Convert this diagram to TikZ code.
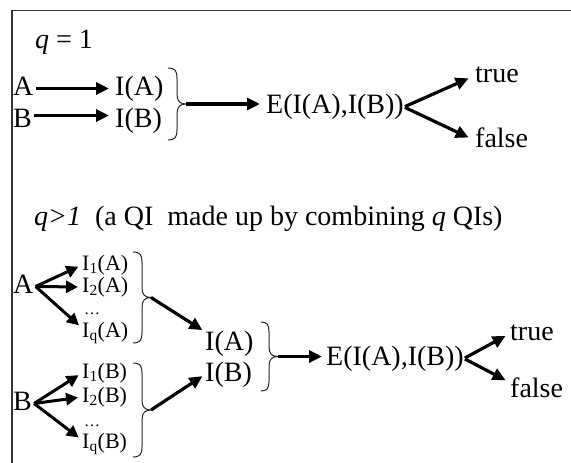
\documentclass[tikz,border=0pt]{standalone}
\usepackage{fontspec}
\setmainfont{Liberation Serif}
\usetikzlibrary{arrows.meta}

% right-facing curly brace: x of hooks, y top, y bottom, hook width, tip width, curl size
\newcommand{\curlybrace}[6]{%
  \draw[brc] (#1,#2) .. controls (#1+0.8*#4,#2) and (#1+#4,#2+0.3*#6) .. (#1+#4,#2+#6)
    -- (#1+#4,{(#2+#3)/2-#6})
    .. controls (#1+#4,{(#2+#3)/2-0.3*#6}) and (#1+#4+0.3*#5,{(#2+#3)/2}) .. (#1+#4+#5,{(#2+#3)/2})
    .. controls (#1+#4+0.3*#5,{(#2+#3)/2}) and (#1+#4,{(#2+#3)/2+0.3*#6}) .. (#1+#4,{(#2+#3)/2+#6})
    -- (#1+#4,#3-#6) .. controls (#1+#4,#3-0.3*#6) and (#1+0.8*#4,#3) .. (#1,#3);}

\begin{document}
\begin{tikzpicture}[x=1pt,y=-1pt,
  big/.style={inner sep=0pt, anchor=base west, text height=18pt, text depth=5pt,
              font=\fontsize{28}{31}\selectfont},
  letter/.style={big, inner xsep=2pt},
  small/.style={inner sep=0pt, anchor=base west, text height=14pt, text depth=4pt,
              font=\fontsize{22}{24}\selectfont},
  dotsnode/.style={inner sep=0pt, anchor=base west, font=\fontsize{16}{17}\selectfont},
  arr/.style={line width=3.2pt, -{Triangle[length=13pt,width=12pt]}},
  sarr/.style={line width=3pt, -{Triangle[length=12pt,width=12pt]}},
  brc/.style={line width=1pt, black!85},
  frame/.style={line width=1.4pt, black!80},
]
\useasboundingbox (0,0) rectangle (571,463);

% open frame: top edge and left edge
\draw[frame] (571,10.5) -- (12,10.5) -- (12,463);

% ---------- q = 1 ----------
\node[big] (q1) at (35,48) {\textit{q} = 1};
\node[letter] (A1) at (11,95) {A};
\node[letter] (B1) at (11,127) {B};
\node[big] (IA1) at (115,95) {I(A)};
\node[big] (IB1) at (115,127) {I(B)};
\node[big] (E1) at (266,113.5) {E(I(A),I(B))};
\node[big] (T1) at (475,82) {true};
\node[big] (F1) at (475,147) {false};

\curlybrace{168}{68}{140}{9}{9}{10}
\coordinate (b1tip) at (186,104);

\draw[arr, shorten >=6pt] (A1.east) -- (IA1.west);
\draw[arr, shorten >=6pt] ([yshift=5pt]B1.east) -- ([yshift=5pt]IB1.west);
\draw[arr, shorten >=6pt] (b1tip) -- (b1tip -| E1.west);
\draw[arr, shorten <=1pt, shorten >=7pt] (E1.east) -- (T1.west);
\draw[arr, shorten <=1pt, shorten >=7pt] (E1.east) -- (F1.west);

% ---------- q > 1 ----------
\node[big] (q2) at (34,225) {\textit{q>1}\ \ (a QI\ \ made up by combining \textit{q} QIs)};

\node[letter] (A2) at (11,293) {A};
\node[small] (I1A) at (82,270) {I\textsubscript{1}(A)};
\node[small] (I2A) at (82,292) {I\textsubscript{2}(A)};
\node[dotsnode] (dA) at (84,314) {…};
\node[small] (IqA) at (82,337) {I\textsubscript{q}(A)};

\node[letter] (B2) at (11,410) {B};
\node[small] (I1B) at (82,378) {I\textsubscript{1}(B)};
\node[small] (I2B) at (82,402) {I\textsubscript{2}(B)};
\node[dotsnode] (dB) at (84,426) {…};
\node[small] (IqB) at (82,448) {I\textsubscript{q}(B)};

\node[big] (IA2) at (205,350) {I(A)};
\node[big] (IB2) at (205,381) {I(B)};
\node[big] (E2) at (326,365) {E(I(A),I(B))};
\node[big] (T2) at (510,340) {true};
\node[big] (F2) at (510,397) {false};

% braces and their tips
\curlybrace{133}{252}{343}{9}{9}{10}
\curlybrace{133}{363}{457}{9}{9}{10}
\curlybrace{261}{322}{391}{8}{9}{10}
\coordinate (bAtip) at (151,297.5);
\coordinate (bBtip) at (151,410);
\coordinate (bCtip) at (278,356.5);

% fan-out arrows
\draw[sarr, shorten >=4pt] (A2.east) -- (I1A.west);
\draw[sarr, shorten >=4pt] (A2.east) -- (I2A.west);
\draw[sarr, shorten >=4pt] (A2.east) -- ([yshift=4pt]IqA.west);
\draw[sarr, shorten >=4pt] (B2.east) -- (I1B.west);
\draw[sarr, shorten >=4pt] (B2.east) -- (I2B.west);
\draw[sarr, shorten >=4pt] (B2.east) -- ([yshift=3pt]IqB.west);

% combining arrows
\draw[arr, shorten >=3pt] (bAtip) -- (IA2.north west);
\draw[arr, shorten >=3pt] (bBtip) -- (IB2.west);
\draw[arr, shorten >=4pt] (bCtip) -- (bCtip -| E2.west);
\draw[arr, shorten <=1pt, shorten >=5pt] (E2.east) -- (T2.west);
\draw[arr, shorten <=1pt, shorten >=5pt] (E2.east) -- ([yshift=8pt]F2.west);
\end{tikzpicture}
\end{document}
